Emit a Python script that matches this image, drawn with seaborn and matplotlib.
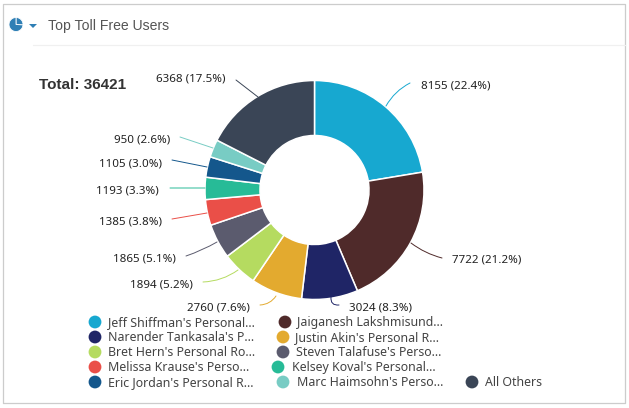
import matplotlib
matplotlib.use('Agg')
import matplotlib.pyplot as plt
import pandas as pd
import seaborn as sns

# data
values = [8155, 7722, 3024, 2760, 1894, 1865, 1385, 1193, 1105, 950, 6368]
names = ["Jeff Shiffman's Personal…", "Jaiganesh Lakshmisund…",
         "Narender Tankasala's P…", "Justin Akin's Personal R…",
         "Bret Hern's Personal Ro…", "Steven Talafuse's Perso…",
         "Melissa Krause's Perso…", "Kelsey Koval's Personal…",
         "Eric Jordan's Personal R…", "Marc Haimsohn's Perso…", "All Others"]
colors = ['#17a8d0', '#4f2a2a', '#1f2566', '#e3aa2f', '#b5db60', '#5b5b6e',
          '#ea4f48', '#27bb97', '#14578c', '#78ccc4', '#3a4556']
total = sum(values)

# layout, all in image pixels
label_xy = [(421, 86), (452, 260), (349, 308), (250, 308), (193, 285), (176, 259),
            (162, 222), (159, 191), (162, 164), (170, 140), (226, 79)]
label_ha = ['left', 'left', 'left', 'right', 'right', 'right',
            'right', 'right', 'right', 'right', 'right']
line_from = [(386, 106), (411, 243), (331, 297), (276, 296), (238, 270), (217, 242),
             (207, 213), (205, 188), (207, 167), (213, 148), (258, 97)]
line_to = [(410, 83), (442, 258), (339, 305), (260, 305), (203, 282), (186, 256),
           (172, 219), (170, 188), (172, 160), (180, 137), (236, 80)]
line_rad = [-0.15, 0.1, 0.6, -0.25, -0.15, -0.05, 0, 0, 0, 0, 0]
legend_dot_x = [95, 285, 95, 283, 95, 283, 95, 278, 95, 283, 472]
legend_text_x = [108, 297, 108, 295, 108, 296, 108, 292, 108, 297, 485]
legend_y = [322, 322, 337, 337, 352, 352, 367, 367, 382, 382, 382]

sns.set_theme(style='white')
plt.rcParams['font.family'] = ['Noto Sans', 'DejaVu Sans']

fig = plt.figure(figsize=(6.29, 4.08), dpi=100)
ax = fig.add_axes([0, 0, 1, 1])

# y axis runs downward, so a growing angle goes clockwise on screen
ax.pie(values, colors=colors, startangle=-90, counterclock=True,
       center=(314.5, 190), radius=109.5,
       wedgeprops=dict(width=55, edgecolor='white', linewidth=1.1))

# small pie icon in the header
ax.pie([26, 74], colors=['#2f7fb5', '#2f7fb5'], startangle=-90, counterclock=True,
       center=(16, 24.5), radius=7,
       wedgeprops=dict(edgecolor='white', linewidth=0.6))
ax.fill([29, 37, 33], [24, 24, 28], color='#2f7fb5', lw=0)

# leader lines + value labels
for i, v in enumerate(values):
    ax.annotate('', xy=line_to[i], xytext=line_from[i],
                arrowprops=dict(arrowstyle='-', color=colors[i], lw=0.7, shrinkA=0, shrinkB=0,
                                connectionstyle=f'arc3,rad={line_rad[i]}'))
    ax.text(label_xy[i][0], label_xy[i][1], f'{v} ({v / total * 100:.1f}%)',
            ha=label_ha[i], va='center', fontsize=8.35, color='#222222')

# legend dots and names
legend_df = pd.DataFrame({'x': legend_dot_x, 'y': legend_y, 'name': names})
sns.scatterplot(data=legend_df, x='x', y='y', hue='name', palette=colors,
                s=85, linewidth=0, legend=False, ax=ax)
for i, name in enumerate(names):
    ax.text(legend_text_x[i], legend_y[i] + 0.7, name, ha='left', va='center',
            fontsize=8.9, color='#444444')

ax.text(48, 26, 'Top Toll Free Users', ha='left', va='center', fontsize=10.1,
        color='#555555', family='Liberation Sans')
ax.text(39, 85, 'Total: 36421', ha='left', va='center', fontsize=11, fontweight='bold',
        color='#333333', family='Liberation Sans')

# panel border and header rule
ax.plot([3, 3, 625, 625], [403, 4, 4, 403], color='#cccccc', lw=0.9)
ax.plot([3, 625], [403, 403], color='#cccccc', lw=0.9)
ax.plot([33, 625], [45, 45], color='#f0f0f0', lw=0.9)

ax.set_xlim(0, 629)
ax.set_ylim(408, 0)
ax.set_xlabel('')
ax.set_ylabel('')
ax.axis('off')

fig.savefig('out.png', dpi=100)
